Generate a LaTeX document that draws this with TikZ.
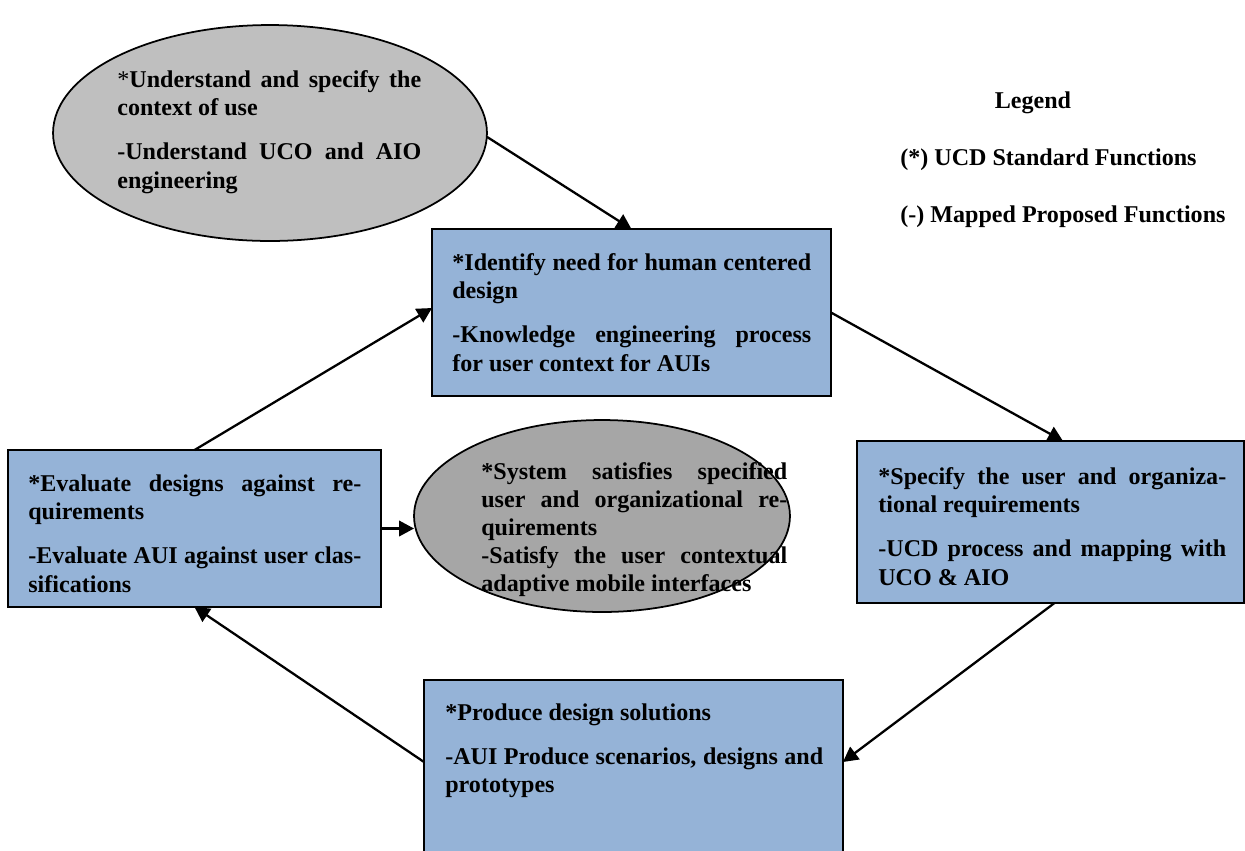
\documentclass[tikz,border=0pt]{standalone}
\usepackage{fontspec}
\setmainfont{Liberation Serif}
\usetikzlibrary{arrows.meta,shapes.geometric,calc}
\definecolor{boxblue}{HTML}{95B3D7}
\definecolor{lightgrey}{HTML}{BFBFBF}
\definecolor{midgrey}{HTML}{A6A6A6}
\tikzset{
  stagebox/.style={draw=black, line width=1pt, fill=boxblue, rectangle,
    inner sep=0pt, outer sep=0pt},
  goalell/.style={draw=black, line width=1pt, ellipse, inner sep=0pt, outer sep=0pt},
  body/.style={anchor=base west, inner sep=0pt, align=justify,
    font=\fontsize{13.7}{16}\selectfont\bfseries},
  legendtext/.style={inner sep=0pt, font=\fontsize{13.7}{16}\selectfont\bfseries},
  flow/.style={line width=1.3pt, -{Triangle[length=3mm,width=3.1mm]}},
}
\newcommand{\blockgap}{\par\vspace{9.5pt}}
\begin{document}
\begin{tikzpicture}[x=0.02cm, y=-0.02cm]
\useasboundingbox (0,0) rectangle (1245,850);

% shapes
\node[goalell, fill=lightgrey, minimum width=8.68cm, minimum height=4.32cm] (ctx) at (270,133) {};
\node[stagebox, minimum width=7.98cm, minimum height=3.34cm] (ident) at (631.5,312.5) {};
\node[stagebox, minimum width=7.46cm, minimum height=3.14cm] (eval) at (194.5,528.5) {};
\node[goalell, fill=midgrey, minimum width=7.52cm, minimum height=3.84cm] (sat) at (602,516) {};
\node[stagebox, minimum width=7.74cm, minimum height=3.24cm] (spec) at (1050.5,522) {};
\node[stagebox, minimum width=8.38cm, minimum height=4cm] (prod) at (633.5,780) {};

% texts
\node[body, text width=6.08cm] (ctxtext) at (117,87)
  {{\mdseries *}Understand and specify the\linebreak context of use\blockgap
   -Understand UCO and AIO\linebreak engineering};
\node[body, text width=7.18cm] (identtext) at (452,270)
  {*Identify need for human centered\linebreak design\blockgap
   -Knowledge engineering process\linebreak for user context for AUIs};
\node[body, text width=6.66cm] (evaltext) at (28,491)
  {*Evaluate designs against re-\linebreak quirements\blockgap
   -Evaluate AUI against user clas-\linebreak sifications};
\node[body, text width=6.12cm] (sattext) at (481,479)
  {*System satisfies specified\linebreak user and organizational re-\linebreak quirements\par
   -Satisfy the user contextual\linebreak adaptive mobile interfaces};
\node[body, text width=6.96cm] (spectext) at (878,484)
  {*Specify the user and organiza-\linebreak tional requirements\blockgap
   -UCD process and mapping with\linebreak UCO \& AIO};
\node[body, text width=7.56cm] (prodtext) at (445,720)
  {*Produce design solutions\blockgap
   -AUI Produce scenarios, designs and\linebreak prototypes};

% legend
\node[legendtext, anchor=base] (leghead) at (1033,108) {Legend};
\node[legendtext, anchor=base west] (legstar) at (900,165) {(*) UCD Standard Functions};
\node[legendtext, anchor=base west] (legdash) at (900,222) {(-) Mapped Proposed Functions};

% connectors
\draw[flow] (ctx.-1) -- (ident.north);
\draw[flow] (ident.east) -- ([xshift=0.25cm]spec.north);
\draw[flow] ([xshift=0.08cm]spec.south) -- ([yshift=0.36cm]prod.east);
\draw[flow] ([yshift=0.36cm]prod.west) -- (eval.south);
\draw[flow] (eval.north) -- ([yshift=0.09cm]ident.west);
\draw[flow] (eval.east) -- (eval.east -| sat.west);
\end{tikzpicture}
\end{document}
